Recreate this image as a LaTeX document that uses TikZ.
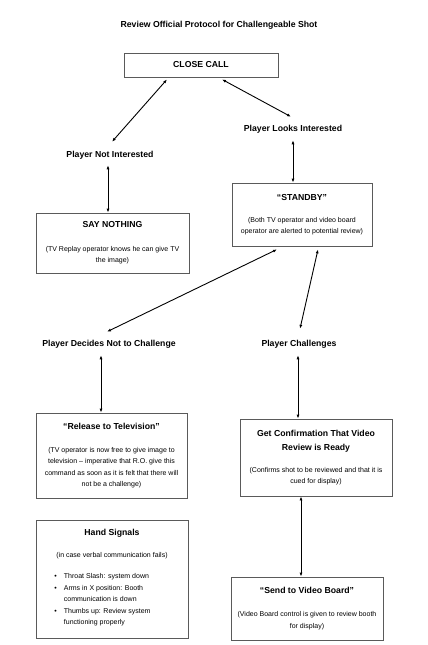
\documentclass[tikz,border=0pt]{standalone}
\usepackage{fontspec}
\setmainfont{Liberation Sans}
\usetikzlibrary{arrows.meta}
\definecolor{boxline}{HTML}{5A5A5A}
\newcommand{\headfont}{\fontsize{8.7}{10}\selectfont\bfseries}
\newcommand{\bodyfont}{\fontsize{7}{11.5}\selectfont}

\begin{document}
\begin{tikzpicture}[x=1pt,y=-1pt,
  box/.style={draw=boxline, line width=0.8pt, align=center, font=\bodyfont, inner sep=2pt},
  lbl/.style={font=\headfont, inner sep=2pt},
  link/.style={{Latex[length=4pt,width=3pt]}-{Latex[length=4pt,width=3pt]}, line width=0.9pt}]
\useasboundingbox (0,0) rectangle (428,645);
\node[lbl] (title) at (219,25) {Review Official Protocol for Challengeable Shot};
\node[box, minimum width=154pt, minimum height=24pt, font=\headfont] (close) at (201,65) {CLOSE CALL};
\node[lbl] (notint) at (110,155) {Player Not Interested};
\node[lbl] (looks) at (293,129) {Player Looks Interested};
\node[box, minimum width=153pt, minimum height=60pt] (saynothing) at (112.5,243) {%
{\headfont SAY NOTHING}\\[12pt]
(TV Replay operator knows he can give TV\\
the image)};
\node[box, minimum width=140pt, minimum height=63pt] (standby) at (302,214.5) {%
{\headfont ``STANDBY''}\\[10.5pt]
(Both TV operator and video board\\
operator are alerted to potential review)};
\node[lbl] (decides) at (109,344) {Player Decides Not to Challenge};
\node[lbl] (challenges) at (299,344) {Player Challenges};
\node[box, minimum width=151pt, minimum height=85pt] (release) at (111.5,455.5) {%
{\headfont ``Release to Television''}\\[11.5pt]
(TV operator is now free to give image to\\
television -- imperative that R.O. give this\\
command as soon as it is felt that there will\\
not be a challenge)};
\node[box, minimum width=152pt, minimum height=77pt] (confirm) at (316,457.5) {%
{\headfont Get Confirmation That Video}\\[2.5pt]
{\headfont Review is Ready}\\[10.5pt]
(Confirms shot to be reviewed and that it is\\
cued for display)};
\node[box, minimum width=152pt, minimum height=118pt] (hands) at (112,579) {%
{\headfont Hand Signals}\\[10.5pt]
(in case verbal communication fails)\\[9.5pt]
\begin{tabular}[t]{@{}l@{\hspace{7pt}}l@{}}
\textbullet & Throat Slash: system down\\
\textbullet & Arms in X position: Booth\\
 & communication is down\\
\textbullet & Thumbs up: Review system\\
 & functioning properly
\end{tabular}\hspace*{19pt}};
\node[box, minimum width=152pt, minimum height=63pt] (send) at (307,608.5) {%
{\headfont ``Send to Video Board''}\\[11.5pt]
(Video Board control is given to review booth\\
for display)};
\draw[link] ([xshift=-34pt,yshift=-2pt]close.south) -- ([xshift=2pt,yshift=7pt]notint.north);
\draw[link] ([xshift=21pt,yshift=-2pt]close.south) -- ([xshift=-2pt,yshift=6pt]looks.north);
\draw[link] ([yshift=-5pt]looks.south) -- (looks.south |- standby.north);
\draw[link] ([xshift=-2pt,yshift=-4pt]notint.south) -- ([xshift=-4.5pt]saynothing.north);
\draw[link] ([xshift=-25pt,yshift=-3pt]standby.south) -- ([xshift=-2pt,yshift=6pt]decides.north);
\draw[link] ([xshift=16pt,yshift=-3pt]standby.south) -- ([xshift=1pt,yshift=9pt]challenges.north);
\draw[link] ([xshift=-8pt,yshift=-5pt]decides.south) -- ([xshift=-10.5pt]release.north);
\draw[link] ([xshift=-1pt,yshift=-5pt]challenges.south) -- ([xshift=-18pt]confirm.north);
\draw[link] ([xshift=-15pt]confirm.south) -- ([xshift=-6pt]send.north);
\end{tikzpicture}
\end{document}
